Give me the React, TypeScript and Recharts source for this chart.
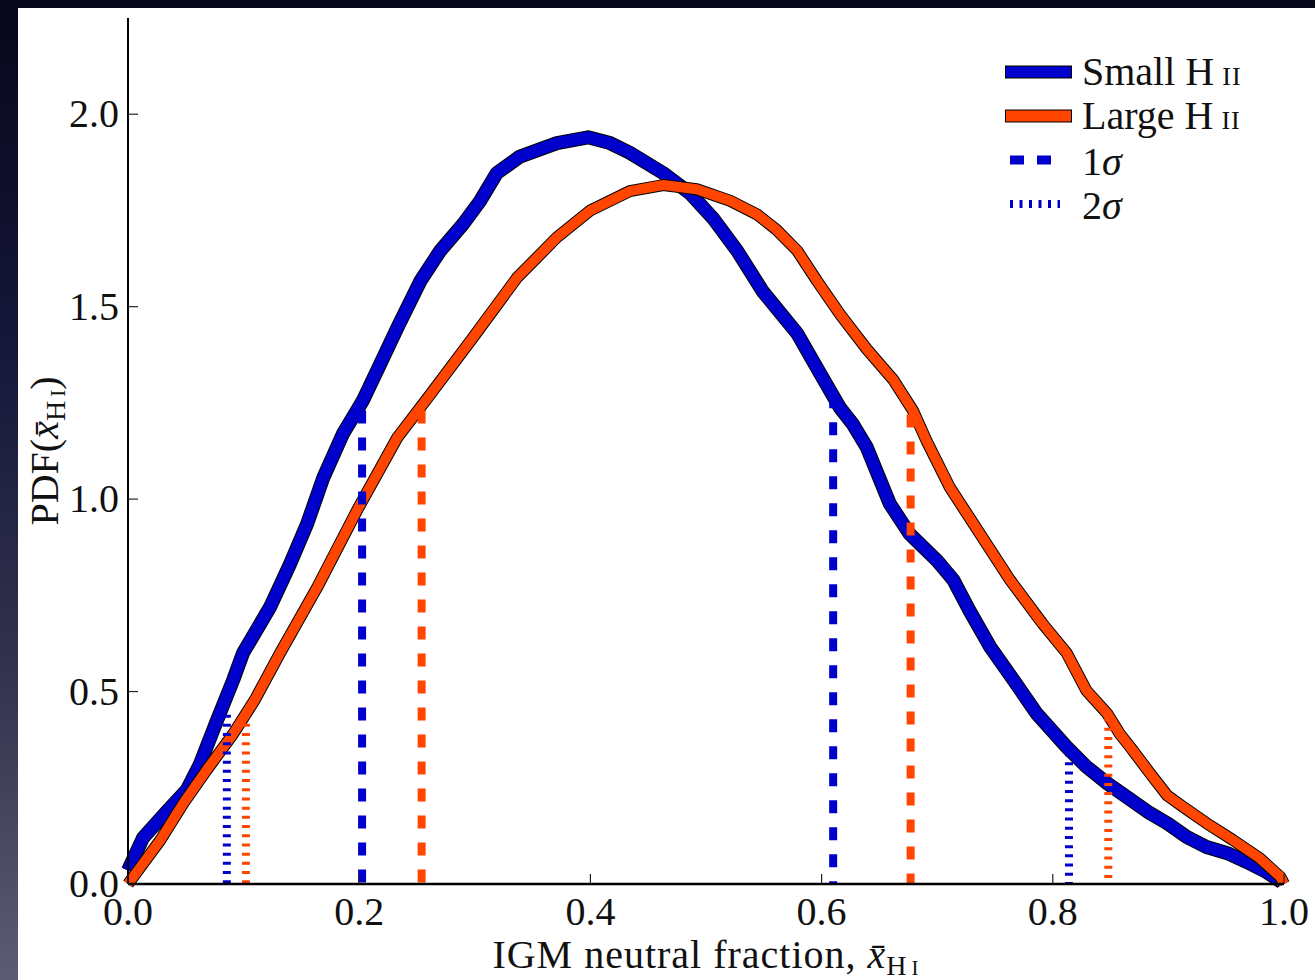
import React from 'react';
import { LineChart, Line, XAxis, YAxis, ReferenceLine, Legend } from 'recharts';

// Small H II model curve
const smallX = [
  0.0, 0.013, 0.034, 0.051, 0.062, 0.077, 0.091, 0.0995, 0.123, 0.14, 0.155, 0.169, 0.186, 0.203, 0.218,
  0.233, 0.253, 0.27, 0.29, 0.3045, 0.319, 0.339, 0.371, 0.398, 0.417, 0.434, 0.463, 0.486, 0.506, 0.527,
  0.549, 0.579, 0.599, 0.616, 0.627, 0.639, 0.659, 0.676, 0.7, 0.714, 0.728, 0.746, 0.766, 0.786, 0.812,
  0.829, 0.847, 0.864, 0.884, 0.899, 0.916, 0.933, 0.951, 0.968, 0.985, 0.998,
];
const smallPdf = [
  0.035, 0.12, 0.19, 0.245, 0.31, 0.425, 0.53, 0.6, 0.72, 0.83, 0.936, 1.056, 1.17, 1.255, 1.35,
  1.445, 1.567, 1.645, 1.715, 1.774, 1.847, 1.89, 1.925, 1.94, 1.925, 1.9, 1.847, 1.795, 1.73, 1.645,
  1.54, 1.43, 1.325, 1.237, 1.195, 1.135, 0.988, 0.91, 0.84, 0.79, 0.71, 0.615, 0.53, 0.443, 0.356,
  0.305, 0.262, 0.226, 0.184, 0.158, 0.122, 0.096, 0.08, 0.057, 0.031, 0.005,
];

// Large H II model curve
const largeX = [
  0.0, 0.028, 0.048, 0.068, 0.091, 0.11, 0.1315, 0.1635, 0.198, 0.233, 0.261, 0.296, 0.3365, 0.371, 0.4,
  0.434, 0.463, 0.492, 0.521, 0.544, 0.561, 0.579, 0.596, 0.616, 0.639, 0.662, 0.679, 0.691, 0.711, 0.737,
  0.763, 0.791, 0.812, 0.829, 0.847, 0.858, 0.869, 0.884, 0.899, 0.913, 0.933, 0.956, 0.979, 0.997, 1.0,
];
const largePdf = [
  0.0, 0.114, 0.21, 0.296, 0.39, 0.48, 0.6, 0.77, 0.97, 1.16, 1.27, 1.41, 1.575, 1.68, 1.75,
  1.8, 1.816, 1.805, 1.775, 1.74, 1.7, 1.645, 1.567, 1.48, 1.39, 1.31, 1.23, 1.15, 1.03, 0.91,
  0.79, 0.677, 0.6, 0.503, 0.443, 0.39, 0.348, 0.288, 0.23, 0.2, 0.158, 0.114, 0.067, 0.018, 0.0,
];

// credible interval bounds and the heights their markers reach
const oneSigmaSmallX = [0.2025, 0.61];
const oneSigmaSmallTop = [1.23, 1.27];
const oneSigmaLargeX = [0.254, 0.677];
const oneSigmaLargeTop = [1.23, 1.22];
const twoSigmaSmallX = [0.0855, 0.814];
const twoSigmaSmallTop = [0.44, 0.34];
const twoSigmaLargeX = [0.102, 0.848];
const twoSigmaLargeTop = [0.44, 0.43];

const xTicks = [0, 0.2, 0.4, 0.6, 0.8, 1.0];
const yTicks = [0, 0.5, 1.0, 1.5, 2.0];

const FONT = '"Liberation Serif", "DejaVu Serif", serif';
const BLUE = '#0000cc';
const ORANGE = '#ff4500';
const DASH = '13 14';
const DOT = '3 6.2';

const smallData = smallX.map((x, i) => ({ x, y: smallPdf[i] }));
const largeData = largeX.map((x, i) => ({ x, y: largePdf[i] }));

const BottomTick = (props: any) => {
  const { x, y, payload } = props;
  return (
    <g>
      <line x1={x} y1={y} x2={x} y2={y - 10} stroke="#222" strokeWidth={1.2} />
      <text x={x} y={y + 41} textAnchor="middle" fontFamily={FONT} fontSize={40} fill="#111">
        {payload.value.toFixed(1)}
      </text>
    </g>
  );
};

const LeftTick = (props: any) => {
  const { x, y, payload } = props;
  return (
    <g>
      <line x1={x} y1={y} x2={x + 10} y2={y} stroke="#222" strokeWidth={1.2} />
      <text x={x - 9} y={y + 13} textAnchor="end" fontFamily={FONT} fontSize={40} fill="#111">
        {payload.value.toFixed(1)}
      </text>
    </g>
  );
};

const TopTick = (props: any) => {
  const { x, y } = props;
  return <line x1={x} y1={y} x2={x} y2={y + 10} stroke="#222" strokeWidth={1.2} />;
};

const RightTick = (props: any) => {
  const { x, y } = props;
  return <line x1={x} y1={y} x2={x - 10} y2={y} stroke="#222" strokeWidth={1.2} />;
};

const XLabel = (props: any) => {
  const vb = props.viewBox || { x: 110, y: 876, width: 1156, height: 96 };
  const cx = vb.x + vb.width / 2;
  return (
    <text x={cx} y={vb.y + 84} textAnchor="middle" fontFamily={FONT} fontSize={40} fill="#111" letterSpacing={1}>
      IGM neutral fraction,{' '}
      <tspan fontStyle="italic">x̄</tspan>
      <tspan fontSize={28} dy={7}>H</tspan>
      <tspan fontSize={21} dx={4}>I</tspan>
    </text>
  );
};

const YLabel = (props: any) => {
  const vb = props.viewBox || { x: 0, y: 10, width: 110, height: 866 };
  const cy = vb.y + vb.height / 2;
  const bx = vb.x + 40;
  return (
    <text
      x={bx}
      y={cy}
      transform={`rotate(-90, ${bx}, ${cy})`}
      textAnchor="middle"
      fontFamily={FONT}
      fontSize={40}
      fill="#111"
    >
      PDF(
      <tspan fontStyle="italic">x̄</tspan>
      <tspan fontSize={28} dy={7}>H</tspan>
      <tspan fontSize={21} dx={4}>I</tspan>
      <tspan dy={-7}>)</tspan>
    </text>
  );
};

const Swatch = ({ color, kind }: { color: string; kind: string }) => (
  <svg width={67} height={44} style={{ display: 'block' }}>
    {kind === 'solid' && <line x1={0} y1={22} x2={67} y2={22} stroke="#000" strokeWidth={13} />}
    {kind === 'solid' && <line x1={1} y1={22} x2={66} y2={22} stroke={color} strokeWidth={11} />}
    {kind === 'dash' && <line x1={5} y1={22} x2={48} y2={22} stroke={color} strokeWidth={9} strokeDasharray="14 13" />}
    {kind === 'dot' && <line x1={5} y1={22} x2={55} y2={22} stroke={color} strokeWidth={8} strokeDasharray="3 6.5" />}
  </svg>
);

const legendRows = [
  { color: BLUE, kind: 'solid', text: <>Small H<span style={{ fontSize: 26, marginLeft: 8, letterSpacing: 1 }}>II</span></> },
  { color: ORANGE, kind: 'solid', text: <>Large H<span style={{ fontSize: 26, marginLeft: 8, letterSpacing: 1 }}>II</span></> },
  { color: BLUE, kind: 'dash', text: <>1<i>σ</i></> },
  { color: BLUE, kind: 'dot', text: <>2<i>σ</i></> },
];

const LegendBox = () => (
  <div style={{ fontFamily: FONT, fontSize: 40, color: '#111' }}>
    {legendRows.map((r, i) => (
      <div key={i} style={{ display: 'flex', alignItems: 'center', height: 44, lineHeight: '44px' }}>
        <Swatch color={r.color} kind={r.kind} />
        <span style={{ marginLeft: 10, paddingTop: 4, whiteSpace: 'nowrap' }}>{r.text}</span>
      </div>
    ))}
  </div>
);

const App = () => {
  return (
    <div
      style={{
        position: 'absolute',
        left: 0,
        top: 0,
        width: 1315,
        height: 980,
        overflow: 'hidden',
        background: 'linear-gradient(to bottom, #07071a 0%, #16163a 35%, #34344f 70%, #5c5c72 100%)',
      }}
    >
      <div style={{ position: 'absolute', left: 18, top: 8, width: 1297, height: 972, background: '#fff' }}>
        <LineChart width={1297} height={972} margin={{ top: 10, right: 31, bottom: 0, left: 0 }}>
          <XAxis
            xAxisId={0}
            dataKey="x"
            type="number"
            domain={[0, 1]}
            ticks={xTicks}
            interval={0}
            height={96}
            tickSize={0}
            tickMargin={0}
            tickLine={false}
            tick={<BottomTick />}
            axisLine={{ stroke: '#000', strokeWidth: 2.5 }}
            label={<XLabel />}
          />
          <XAxis
            xAxisId="top"
            orientation="top"
            type="number"
            domain={[0, 1]}
            ticks={xTicks}
            interval={0}
            height={0}
            tickSize={0}
            tickMargin={0}
            tickLine={false}
            tick={<TopTick />}
            axisLine={{ stroke: '#000', strokeWidth: 2 }}
          />
          <YAxis
            yAxisId={0}
            type="number"
            domain={[0, 2.25]}
            ticks={yTicks}
            interval={0}
            width={110}
            tickSize={0}
            tickMargin={0}
            tickLine={false}
            tick={<LeftTick />}
            axisLine={{ stroke: '#000', strokeWidth: 2 }}
            label={<YLabel />}
          />
          <YAxis
            yAxisId="right"
            orientation="right"
            type="number"
            domain={[0, 2.25]}
            ticks={yTicks}
            interval={0}
            width={0}
            tickSize={0}
            tickMargin={0}
            tickLine={false}
            tick={<RightTick />}
            axisLine={{ stroke: '#000', strokeWidth: 2 }}
          />
          <Line data={smallData} dataKey="y" type="linear" stroke="#000" strokeWidth={14} dot={false} activeDot={false} strokeLinejoin="round" isAnimationActive={false} legendType="none" />
          <Line data={smallData} dataKey="y" type="linear" stroke={BLUE} strokeWidth={12} dot={false} activeDot={false} strokeLinejoin="round" isAnimationActive={false} name="Small H II" />
          <Line data={largeData} dataKey="y" type="linear" stroke="#000" strokeWidth={12} dot={false} activeDot={false} strokeLinejoin="round" isAnimationActive={false} legendType="none" />
          <Line data={largeData} dataKey="y" type="linear" stroke={ORANGE} strokeWidth={10} dot={false} activeDot={false} strokeLinejoin="round" isAnimationActive={false} name="Large H II" />
          {oneSigmaSmallX.map((x, i) => (
            <ReferenceLine key={`s1${i}`} segment={[{ x, y: oneSigmaSmallTop[i] }, { x, y: 0 }]} stroke={BLUE} strokeWidth={8} strokeDasharray={DASH} ifOverflow="visible" />
          ))}
          {oneSigmaLargeX.map((x, i) => (
            <ReferenceLine key={`l1${i}`} segment={[{ x, y: oneSigmaLargeTop[i] }, { x, y: 0 }]} stroke={ORANGE} strokeWidth={8} strokeDasharray={DASH} ifOverflow="visible" />
          ))}
          {twoSigmaSmallX.map((x, i) => (
            <ReferenceLine key={`s2${i}`} segment={[{ x, y: twoSigmaSmallTop[i] }, { x, y: 0 }]} stroke={BLUE} strokeWidth={8} strokeDasharray={DOT} ifOverflow="visible" />
          ))}
          {twoSigmaLargeX.map((x, i) => (
            <ReferenceLine key={`l2${i}`} segment={[{ x, y: twoSigmaLargeTop[i] }, { x, y: 0 }]} stroke={ORANGE} strokeWidth={8} strokeDasharray={DOT} ifOverflow="visible" />
          ))}
          <Legend
            layout="horizontal"
            verticalAlign="middle"
            align="center"
            content={<LegendBox />}
            wrapperStyle={{ left: 987, top: 42, width: 280, height: 180 }}
          />
        </LineChart>
      </div>
    </div>
  );
};

export default App;
